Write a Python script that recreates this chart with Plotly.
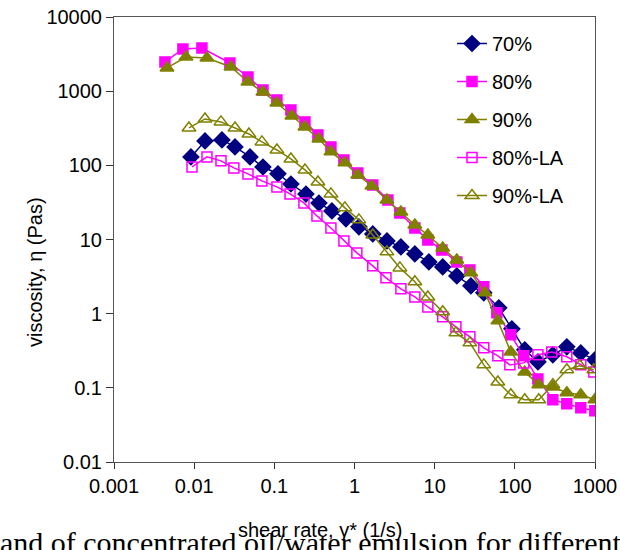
import plotly.graph_objects as go

# ---- data ----
x70 = [0.00912, 0.01365, 0.0222, 0.0323, 0.0497, 0.0721, 0.111, 0.161, 0.248, 0.360,
       0.522, 0.782, 1.135, 1.69, 2.54, 3.79, 5.66, 8.47, 12.6, 18.9,
       28.3, 41.0, 63.1, 91.8, 133, 194, 298, 445, 665, 995]
y70 = [130, 213, 220, 177, 130, 95, 77, 56, 41, 31,
       24.3, 19.0, 14.8, 11.9, 9.57, 7.94, 6.39, 4.99, 4.27, 3.23,
       2.37, 1.91, 1.20, 0.624, 0.325, 0.224, 0.279, 0.357, 0.296, 0.238]

x80 = [0.00432, 0.00724, 0.0125, 0.0279, 0.0469, 0.0721, 0.1077, 0.161, 0.241, 0.350,
       0.508, 0.738, 1.10, 1.69, 2.61, 3.68, 5.66, 8.22, 12.3, 18.9,
       27.5, 41.0, 59.7, 89.1, 129, 194, 298, 445, 665, 995]
y80 = [2477, 3705, 3820, 2399, 1553, 1038, 761, 558, 385, 257,
       177, 118, 79, 54.5, 34.2, 22.8, 14.3, 9.88, 7.24, 4.99,
       3.89, 2.30, 1.03, 0.518, 0.270, 0.132, 0.0689, 0.0608, 0.0537, 0.0490]

x90 = [0.00458, 0.00791, 0.01445, 0.0288, 0.0469, 0.0721, 0.1077, 0.1655, 0.241, 0.360,
       0.508, 0.759, 1.10, 1.65, 2.54, 3.79, 5.66, 8.22, 12.6, 18.9,
       28.3, 42.3, 61.4, 89.1, 133, 199, 298, 445, 665, 995]
y90 = [2056, 2890, 2801, 2118, 1330, 975, 693, 463, 329, 227,
       152, 108, 74.2, 52.8, 34.2, 23.5, 15.7, 11.5, 7.71, 5.31,
       3.55, 1.91, 0.800, 0.305, 0.164, 0.110, 0.103, 0.0857, 0.0805, 0.0689]

x80LA = [0.00940, 0.01445, 0.0216, 0.0313, 0.0469, 0.0700, 0.1077, 0.157, 0.234, 0.340,
         0.508, 0.738, 1.07, 1.69, 2.47, 3.79, 5.66, 8.22, 12.6, 18.4,
         27.5, 41.0, 61.4, 86.7, 129, 194, 289, 445, 665, 966]
y80LA = [95.1, 130, 115, 92.3, 76.6, 61.7, 51.2, 41.2, 31.1, 20.8,
         14.3, 9.57, 6.60, 4.41, 3.04, 2.16, 1.68, 1.23, 0.906, 0.664,
         0.487, 0.346, 0.270, 0.204, 0.217, 0.279, 0.305, 0.262, 0.204, 0.164]

x90LA = [0.00861, 0.01365, 0.0216, 0.0323, 0.0482, 0.0700, 0.1077, 0.161, 0.241, 0.350,
         0.508, 0.759, 1.135, 1.69, 2.54, 3.68, 5.66, 8.22, 12.6, 18.4,
         27.5, 41.0, 61.4, 89.1, 133, 199, 298, 445, 646, 966]
y90LA = [319, 422, 385, 319, 265, 207, 161, 122, 86.7, 59.7,
         41.2, 26.7, 18.4, 11.5, 6.81, 4.14, 2.69, 1.68, 1.06, 0.551,
         0.404, 0.204, 0.120, 0.0805, 0.0689, 0.0689, 0.110, 0.175, 0.198, 0.175]

series_names = ["70%", "80%", "90%", "80%-LA", "90%-LA"]
x_tick_vals = [0.001, 0.01, 0.1, 1, 10, 100, 1000]
x_tick_text = ["0.001", "0.01", "0.1", "1", "10", "100", "1000"]
y_tick_vals = [0.01, 0.1, 1, 10, 100, 1000, 10000]
y_tick_text = ["0.01", "0.1", "1", "10", "100", "1000", "10000"]

NAVY = "#000080"
MAG = "#FF00FF"
OLIVE = "#808000"

styles = [
    (x70, y70, NAVY, "diamond", 12, NAVY),
    (x80, y80, MAG, "square", 10, MAG),
    (x90, y90, OLIVE, "triangle-up", 12, OLIVE),
    (x80LA, y80LA, MAG, "square-open", 10, MAG),
    (x90LA, y90LA, OLIVE, "triangle-up-open", 12, OLIVE),
]

fig = go.Figure()
for i, (xs, ys, col, sym, sz, mcol) in enumerate(styles):
    fig.add_trace(go.Scatter(
        x=xs, y=ys, name=series_names[i], mode="lines+markers",
        legendgroup=f"g{i}",
        line=dict(color=col, width=1.5),
        marker=dict(symbol=sym, size=sz, color=mcol,
                    line=dict(color=mcol, width=1.5)),
    ))

FONT = "Liberation Sans, Arial, sans-serif"
L, R, T, B = 114, 25, 17, 88
PW, PH = 620 - L - R, 550 - T - B

fig.update_layout(
    width=620, height=550,
    margin=dict(l=L, r=R, t=T, b=B, autoexpand=False),
    paper_bgcolor="white", plot_bgcolor="white",
    font=dict(family=FONT, size=20, color="black"),
    showlegend=True,
    legend=dict(x=(452 - L) / PW, y=1 - (24 - T) / PH, xanchor="left", yanchor="top",
                bgcolor="rgba(0,0,0,0)", font=dict(size=20),
                tracegroupgap=9, itemwidth=30),
    xaxis=dict(type="log", range=[-3, 3], tickvals=x_tick_vals, ticktext=x_tick_text,
               automargin=False,
               showgrid=False, zeroline=False, showline=True, linecolor="#555555",
               linewidth=1, mirror=True, ticks="outside", ticklen=6, tickcolor="#333333",
               tickfont=dict(size=20)),
    yaxis=dict(type="log", range=[-2, 4], tickvals=y_tick_vals, ticktext=y_tick_text,
               automargin=False,
               showgrid=False, zeroline=False, showline=True, linecolor="#555555",
               linewidth=1, mirror=True, ticks="outside", ticklen=7, tickcolor="#333333",
               tickfont=dict(size=20)),
)

fig.add_annotation(text="and of concentrated oil/water emulsion for different",
                   xref="paper", yref="paper", x=(-2 - L) / PW, y=-(542 - (T + PH)) / PH,
                   xanchor="left", yanchor="middle", showarrow=False,
                   font=dict(family="Liberation Serif, Times New Roman, serif", size=30, color="black"))
fig.add_annotation(text="shear rate, γ* (1/s)",
                   xref="paper", yref="paper", x=(320 - L) / PW, y=-(530 - (T + PH)) / PH,
                   xanchor="center", yanchor="middle", showarrow=False,
                   font=dict(family=FONT, size=20, color="black"))
fig.add_annotation(text="viscosity, η (Pas)", textangle=-90,
                   xref="paper", yref="paper", x=(35 - L) / PW, y=((T + PH) - 272) / PH,
                   xanchor="center", yanchor="middle", showarrow=False,
                   font=dict(family=FONT, size=20, color="black"))

fig.write_html("out.html", config={"displayModeBar": False},
               post_script="document.body.style.margin='0';document.body.style.padding='0';")
